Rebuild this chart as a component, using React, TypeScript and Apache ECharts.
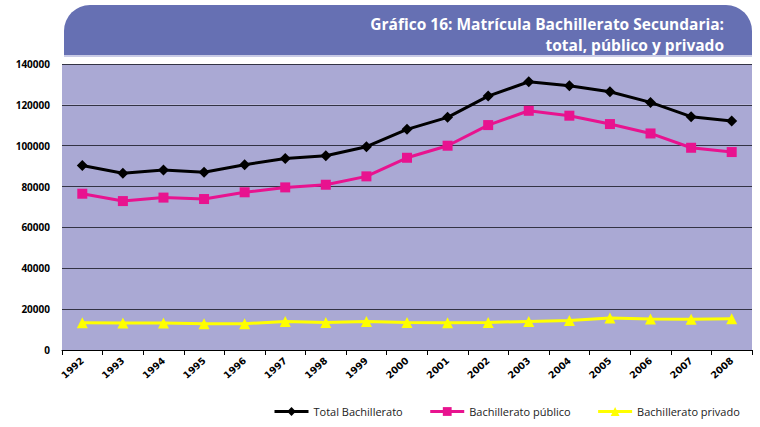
import React, { useEffect, useRef } from "react";
import * as echarts from "echarts";

const years = ["1992","1993","1994","1995","1996","1997","1998","1999","2000","2001","2002","2003","2004","2005","2006","2007","2008"];
const total = [90300, 86500, 88100, 87000, 90700, 93700, 95100, 99500, 108000, 113900, 124300, 131300, 129400, 126400, 121200, 114200, 112100];
const publico = [76500, 72900, 74600, 73900, 77200, 79600, 80900, 85000, 94100, 100000, 110100, 117100, 114700, 110600, 106000, 99000, 96900];
const privado = [13400, 13200, 13200, 12800, 12900, 13900, 13500, 13900, 13500, 13300, 13500, 14000, 14500, 15700, 15200, 15000, 15300];
const titleLines = ["Gráfico 16: Matrícula Bachillerato Secundaria:", "total, público y privado"];
const seriesNames = ["Total Bachillerato", "Bachillerato público", "Bachillerato privado"];

export default function App() {
  const ref = useRef<HTMLDivElement>(null);
  useEffect(() => {
    if (!ref.current) return;
    const chart = echarts.init(ref.current, null, { renderer: "svg" });
    const font = "'Open Sans', 'DejaVu Sans', sans-serif";
    chart.setOption({
      animation: false,
      textStyle: { fontFamily: font },
      graphic: [
        {
          type: "rect",
          shape: { x: 64, y: 5, width: 688, height: 50, r: [26, 26, 0, 0] },
          style: { fill: "#6670b3" },
        },
        {
          type: "rect",
          shape: { x: 64, y: 55, width: 688, height: 2 },
          style: { fill: "#c9cbe6" },
        },
        {
          type: "text",
          x: 724,
          y: 13,
          style: {
            text: titleLines.join("\n"),
            fill: "#ffffff",
            font: "bold 15.5px " + font,
            align: "right",
            lineHeight: 21,
          },
        },
      ],
      grid: { left: 62, right: 8, top: 64, bottom: 77 },
      legend: {
        bottom: 5,
        left: 268,
        width: 490,
        orient: "horizontal",
        itemWidth: 34,
        itemHeight: 11,
        itemGap: 26,
        lineStyle: { width: 3 },
        textStyle: { fontSize: 11, color: "#222", fontFamily: font },
        data: seriesNames,
      },
      xAxis: {
        type: "category",
        data: years,
        boundaryGap: true,
        axisLine: { lineStyle: { color: "#000", width: 1 } },
        axisTick: { show: true, alignWithLabel: false, length: 5, lineStyle: { color: "#000" } },
        axisLabel: {
          rotate: 42,
          fontSize: 9.5,
          fontWeight: "bold",
          color: "#000",
          margin: 9,
          interval: 0,
          fontFamily: "'DejaVu Sans', sans-serif",
        },
      },
      yAxis: {
        type: "value",
        min: 0,
        max: 140000,
        interval: 20000,
        axisLine: { show: false },
        axisTick: { show: false },
        axisLabel: {
          fontSize: 10,
          fontWeight: "bold",
          color: "#000",
          margin: 12,
          formatter: (v: number) => String(v),
        },
        splitLine: { lineStyle: { color: "#333344", width: 1 } },
        splitArea: { show: true, areaStyle: { color: ["#aaa9d4", "#aaa9d4"] } },
      },
      series: [
        {
          name: seriesNames[0],
          type: "line",
          data: total,
          symbol: "diamond",
          symbolSize: 11,
          itemStyle: { color: "#000000" },
          lineStyle: { color: "#000000", width: 3 },
        },
        {
          name: seriesNames[1],
          type: "line",
          data: publico,
          symbol: "rect",
          symbolSize: 10,
          itemStyle: { color: "#e8138f" },
          lineStyle: { color: "#e8138f", width: 3 },
        },
        {
          name: seriesNames[2],
          type: "line",
          data: privado,
          symbol: "triangle",
          symbolSize: 11,
          itemStyle: { color: "#ffff00" },
          lineStyle: { color: "#ffff00", width: 3 },
        },
      ],
    });
    return () => chart.dispose();
  }, []);
  return <div ref={ref} style={{ width: 760, height: 427, position: "absolute", left: 0, top: 0 }} />;
}
